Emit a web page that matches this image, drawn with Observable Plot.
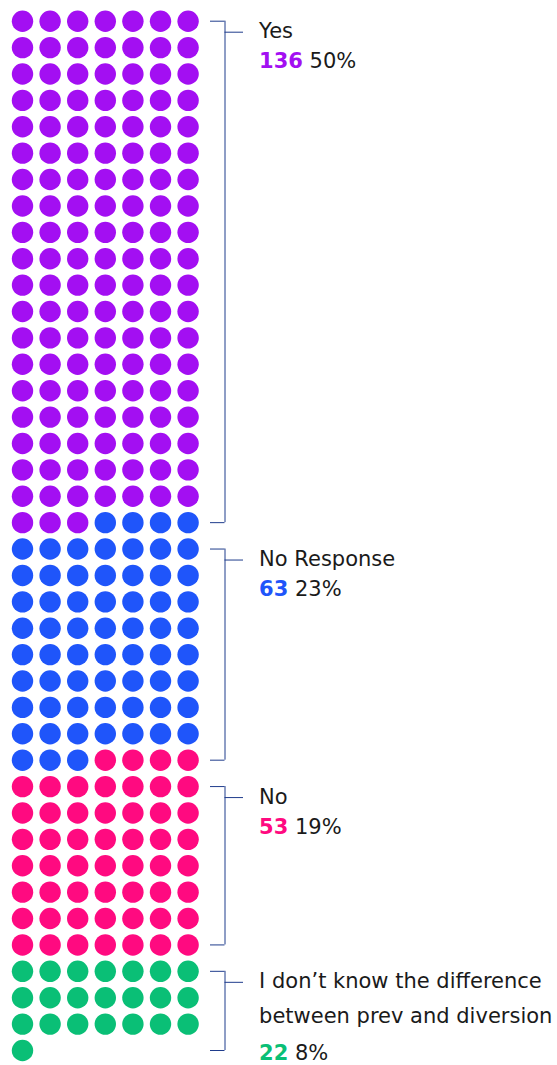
<!DOCTYPE html>
<html><head><meta charset="utf-8">
<script src="https://cdn.jsdelivr.net/npm/d3@7"></script>
<script src="https://cdn.jsdelivr.net/npm/@observablehq/plot@0.6"></script>
<style>html,body{margin:0;padding:0;background:#fff;} svg{display:block;}</style>
</head><body><div id="chart"></div>
<script>
// ---- data ----
const categories = ["Yes", "No Response", "No", "I don\u2019t know the difference\nbetween prev and diversion"];
const counts = [136, 63, 53, 22];
const percents = [50, 23, 19, 8];
const colors = ["#a30ff2", "#1f55fa", "#ff0a80", "#0abf76"];
const columns = 7;

// ---- derived tables ----
const cells = [];
let start = 0;
const groups = categories.map((label, g) => {
  const s = start;
  for (let k = 0; k < counts[g]; k++) {
    const i = s + k;
    cells.push({col: i % columns, row: Math.floor(i / columns), color: colors[g]});
  }
  start += counts[g];
  return {label, count: counts[g], pct: percents[g], color: colors[g],
          top: Math.ceil(s / columns), bottom: Math.floor((start - 1) / columns)};
});
const nRows = Math.ceil(start / columns);

// ---- layout (pixels) ----
const W = 557, H = 1065;
const x0 = 22, x1 = 187.6, y0 = 20.7, y1 = 1050;
const xStep = (x1 - x0) / (columns - 1);
const yStep = (y1 - y0) / (nRows - 1);
const xu = px => (columns - 1) + px / xStep;   // px offset from last column -> x units
const yu = px => px / yStep;                   // px offset -> y units
const tickStart = 22.4, bracketX = 36.9, tickEnd = 55.4, textX = 71;
const labelOffset = 17, minBaseline = 34 - y0, lineGap = 35;

const textLines = [];
groups.forEach(g => {
  const lines = g.label.split("\n");
  const base = Math.max(yu(labelOffset) + g.top, yu(minBaseline));
  lines.forEach((t, i) => textLines.push({text: t, y: base + yu(i * lineGap)}));
  const numGap = lines.length > 1 ? 37 : 30;
  g.numY = base + yu((lines.length - 1) * lineGap + numGap);
});

const stroke = "#1f3c8c";
const font = "DejaVu Sans";

const svg = Plot.plot({
  width: W, height: H, margin: 0,
  x: {domain: [0, columns - 1], range: [x0, x1], axis: null},
  y: {domain: [0, nRows - 1], range: [y0, y1], axis: null},
  marks: [
    Plot.dot(cells, {x: "col", y: "row", r: 10.7, fill: "color"}),
    Plot.ruleX(groups, {x: () => xu(bracketX), y1: "top", y2: "bottom", stroke, strokeWidth: 1}),
    Plot.ruleY(groups, {y: "top", x1: () => xu(tickStart), x2: () => xu(bracketX), stroke, strokeWidth: 1}),
    Plot.ruleY(groups, {y: "bottom", x1: () => xu(tickStart), x2: () => xu(bracketX), stroke, strokeWidth: 1}),
    Plot.ruleY(groups, {y: "top", dy: 11, x1: () => xu(bracketX), x2: () => xu(tickEnd), stroke, strokeWidth: 1}),
    Plot.text(textLines, {x: () => xu(textX), y: "y", text: "text", textAnchor: "start", lineAnchor: "bottom",
      fontSize: 21, fontFamily: font, fill: "#1a1a1a"}),
    Plot.text(groups, {x: () => xu(textX), y: "numY", text: d => `${d.count} ${d.pct}%`, textAnchor: "start",
      lineAnchor: "bottom", fontSize: 21, fontFamily: font, fill: "color", className: "numline"})
  ]
});

// split number lines into bold coloured count + regular percent
const ns = "http://www.w3.org/2000/svg";
d3.select(svg).selectAll(".numline text").each(function () {
  const t = this.textContent;
  const k = t.indexOf(" ");
  this.textContent = "";
  this.style.whiteSpace = "pre";
  const a = document.createElementNS(ns, "tspan");
  a.setAttribute("font-weight", "bold");
  a.textContent = t.slice(0, k);
  const b = document.createElementNS(ns, "tspan");
  b.setAttribute("fill", "#1a1a1a");
  b.textContent = t.slice(k);
  this.appendChild(a); this.appendChild(b);
});

document.getElementById("chart").appendChild(svg);
</script>
</body></html>
